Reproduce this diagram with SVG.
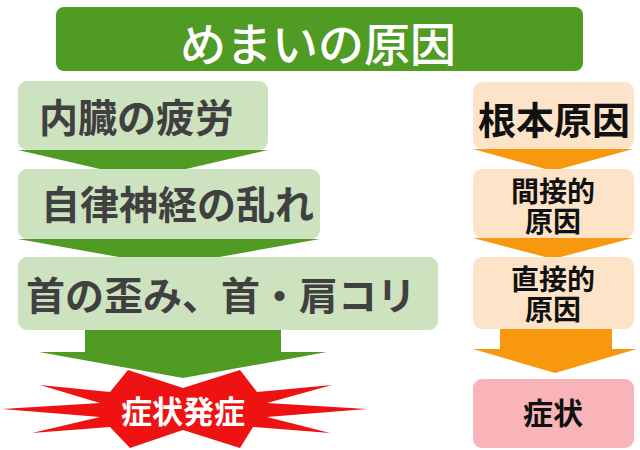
<svg xmlns="http://www.w3.org/2000/svg" width="640" height="450" viewBox="0 0 640 450">
<style>
.jp{font-family:"Noto Sans CJK JP","Noto Sans CJK SC",sans-serif}
.lg{fill:#cde2bf}
.pe{fill:#fde4c9}
.gr{fill:#509b23}
.or{fill:#f7980f}
.lt{font-size:39px;font-weight:700;fill:#404040}
.rt{font-weight:700;fill:#111111;text-anchor:middle}
</style>
<rect width="640" height="450" fill="#ffffff"/>
<g id="connectors">
<polygon class="gr" points="18,150 268,150 143,179"/>
<polygon class="gr" points="18,239 320,239 169,266"/>
<polygon class="gr" points="85,329 281,329 281,352 327,352 183,378 39,352 85,352"/>
<polygon class="or" points="473,149 633,149 553,171"/>
<polygon class="or" points="473,238 633,238 553,259"/>
<polygon class="or" points="500,329 612,329 612,349 637,349 555,373 473,349 500,349"/>
</g>
<g id="title">
<rect x="56" y="7" width="527" height="64" rx="8" class="gr"/>
<text x="318" y="61" class="jp" font-size="46" font-weight="500" fill="#ffffff" text-anchor="middle">めまいの原因</text>
</g>
<g id="n1">
<rect x="18" y="81" width="250" height="69" rx="9" class="lg"/>
<text x="39" y="132" class="jp lt" font-size="41">内臓の疲労</text>
</g>
<g id="n2">
<rect x="18" y="169" width="302" height="70" rx="9" class="lg"/>
<text x="41" y="219" class="jp lt">自律神経の乱れ</text>
</g>
<g id="n3">
<rect x="18" y="257" width="420" height="73" rx="9" class="lg"/>
<text x="26" y="310" class="jp lt">首の歪み、首・肩コリ</text>
</g>
<g id="burst">
<polygon fill="#ef1212" points="128,370 183,388 240,370 257,392 332,385 267,403 367,409 267,417 330,433 253,427 240,448 183,430 130,448 110,427 32,433 100,417 2,409 100,403 40,385 110,392"/>
<text x="183" y="423" class="jp" font-size="31" font-weight="700" fill="#ffffff" text-anchor="middle">症状発症</text>
</g>
<g id="r1">
<rect x="473" y="82" width="161" height="67" rx="9" class="pe"/>
<text x="554" y="134" class="jp rt" font-size="38">根本原因</text>
</g>
<g id="r2">
<rect x="473" y="169" width="161" height="69" rx="9" class="pe"/>
<text class="jp rt" font-size="28"><tspan x="553" y="202">間接的</tspan><tspan x="553" y="232">原因</tspan></text>
</g>
<g id="r3">
<rect x="473" y="257" width="161" height="72" rx="9" class="pe"/>
<text class="jp rt" font-size="28"><tspan x="553" y="290">直接的</tspan><tspan x="553" y="320">原因</tspan></text>
</g>
<g id="r4">
<rect x="473" y="379" width="161" height="69" rx="9" fill="#f8b4b8"/>
<text x="553" y="424" class="jp rt" font-size="30">症状</text>
</g>
</svg>
